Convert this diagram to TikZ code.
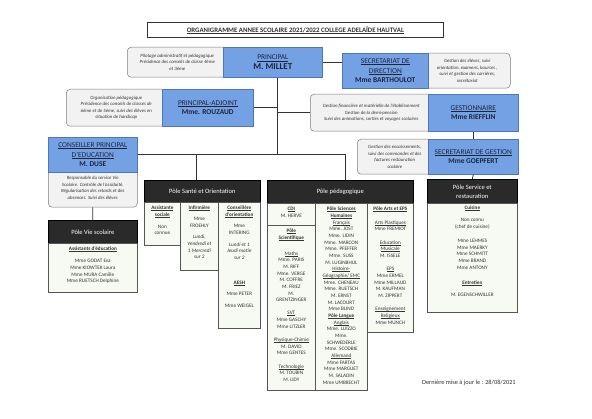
\documentclass[tikz,border=0pt]{standalone}
\usepackage{fontspec}
\setmainfont{Carlito}
\usetikzlibrary{positioning}

\definecolor{chiefblue}{RGB}{116,161,228}
\definecolor{chiefline}{RGB}{78,118,190}
\definecolor{chieftext}{RGB}{28,36,60}
\definecolor{descfill}{RGB}{242,242,242}
\definecolor{descline}{RGB}{125,125,125}
\definecolor{headdark}{RGB}{42,42,42}
\definecolor{bodyfill}{RGB}{246,250,243}
\definecolor{bodyline}{RGB}{85,85,85}
\definecolor{inkgray}{RGB}{50,50,50}

% soulignement fin, sans profondeur excessive
\newcommand{\souligne}[1]{\setbox0\hbox{#1}\rlap{\rule[-0.15em]{\wd0}{0.06em}}\box0}

\begin{document}
\begin{tikzpicture}[x=1pt, y=-1pt,
    desc/.style={draw=descline, fill=descfill, rounded corners=4pt, line width=0.5pt, inner sep=0pt, anchor=north west, align=center, text=inkgray, font=\fontsize{4.8}{6.6}\selectfont\itshape},
    chief/.style={draw=chiefline, fill=chiefblue, line width=0.6pt, inner sep=0pt, anchor=north west, align=center, text=chieftext, font=\fontsize{7.4}{9.6}\selectfont},
    polehead/.style={draw=black, fill=headdark, line width=0.6pt, inner sep=0pt, anchor=north west, align=center, text=white, font=\fontsize{6.5}{9}\selectfont},
    polebody/.style={draw=bodyline, fill=bodyfill, line width=0.7pt, inner sep=0pt, anchor=north west},
    names/.style={inner sep=0pt, align=center, text=inkgray, font=\fontsize{5.2}{6.67}\selectfont},
    link/.style={draw=inkgray, line width=0.8pt}]

\fill[white] (0,0) rectangle (592,419);
\useasboundingbox (0,0) rectangle (592,419);

% title
\node[draw=inkgray, line width=0.7pt, inner sep=0pt, anchor=north west, minimum width=296pt, minimum height=15pt, text=inkgray, font=\fontsize{6.8}{8}\selectfont\bfseries] (title) at (147,22) {\souligne{ORGANIGRAMME ANNEE SCOLAIRE 2021/2022 COLLEGE ADELAÏDE HAUTVAL}};

% direction
\node[desc, minimum width=100pt, minimum height=30pt] (pdesc) at (127,47) {Pilotage administratif et pédagogique\\Présidence des conseils de classe 4ème\\et 3ème};
\node[chief, minimum width=99pt, minimum height=30pt] (principal) at (223,47) {\souligne{PRINCIPAL}\\{\fontsize{9}{10}\selectfont\bfseries M. MILLET}};

\node[desc, minimum width=86pt, minimum height=35pt] (sddesc) at (424,53) {Gestion des élèves, suivi\\orientation, examens, bourses ,\\suivi et gestion des carrières,\\secrétariat};
\node[chief, minimum width=86pt, minimum height=35pt] (secdir) at (342,53) {\souligne{SECRETARIAT DE}\\\souligne{DIRECTION}\\\textbf{Mme BARTHOULOT}};

\node[desc, minimum width=100pt, minimum height=37pt] (adesc) at (66,89) {Organisation pédagogique\\Présidence des conseils de classes de\\6ème et de 5ème, suivi des élèves en\\situation de handicap};
\node[chief, minimum width=91pt, minimum height=37pt] (adjoint) at (162,89) {\souligne{PRINCIPAL-ADJOINT}\\\textbf{Mme. ROUZAUD}};

\node[desc, minimum width=122pt, minimum height=37pt] (gdesc) at (310,94) {Gestion financière et matérielle de l'établissement\\Gestion de la demi-pension\\Suivi des animations, sorties et voyages scolaires};
\node[chief, minimum width=90pt, minimum height=37pt] (gest) at (428,94) {\souligne{GESTIONNAIRE}\\\textbf{Mme RIEFFLIN}};

\node[desc, minimum width=75pt, minimum height=35pt] (sgdesc) at (357,139) {Gestion des encaissements,\\suivi des commandes et des\\factures restauration\\scolaire};
\node[chief, minimum width=90pt, minimum height=35pt] (secgest) at (428,139) {\souligne{SECRETARIAT DE GESTION}\\\textbf{Mme GOEPFERT}};

\node[desc, minimum width=89pt, minimum height=39pt] (cdesc) at (48,168) {Responsable du service Vie\\Scolaire. Contrôle de l'assiduité.\\Régularisation des retards et des\\absences. Suivi des élèves};
\node[chief, minimum width=89pt, minimum height=35pt] (cpe) at (48,137) {\souligne{CONSEILLER PRINCIPAL}\\\souligne{D'EDUCATION}\\\textbf{M. DUSE}};

% poles
\node[polehead, minimum width=89pt, minimum height=23pt] (vieh) at (48,220) {Pôle Vie scolaire};
\node[polehead, minimum width=116pt, minimum height=22pt] (santeh) at (144,180) {Pôle Santé et Orientation};
\node[polehead, minimum width=146pt, minimum height=23pt] (pedah) at (267,180) {Pôle pédagogique};
\node[polehead, minimum width=90pt, minimum height=24pt] (serviceh) at (427,179) {Pôle Service et\\restauration};

\foreach \nm/\x/\y/\w/\h in {vieb/48/243/89/49, sante1/144/202/36/43, sante2/180/202/38/68, sante3/218/202/42/126,
    cdi/267/203/48/22, scien/267/225/48/165, human/315/203/52/187, arts/367/203/46/129, serviceb/427/203/90/109}
  \node[polebody, minimum width=\w pt, minimum height=\h pt] (\nm) at (\x,\y) {};

\node[names, below=4pt of vieb.north] (vietxt) {\souligne{\textbf{Assistants d'éducation}}\\[5.3pt]Mme GODAT Eva\\Mme KIOWTEK Laura\\Mme MURA Camille\\Mme RUETSCH Delphine};

\node[names, below=4pt of sante1.north] (s1txt) {\souligne{\textbf{Assistante}}\\\souligne{\textbf{sociale}}\\[5pt]Non\\connue};
\node[names, below=4pt of sante2.north] (s2txt) {\souligne{\textbf{Infirmière}}\\[4pt]Mme\\FROEHLY\\[5pt]\textit{Lundi,}\\\textit{Vendredi et}\\\textit{1 Mercredi}\\\textit{sur 2}};
\node[names, below=4pt of sante3.north] (s3txt) {\souligne{\textbf{Conseillère}}\\\souligne{\textbf{d'orientation}}\\[4.5pt]Mme\\INTERING\\[5pt]\textit{Lundi et 1}\\\textit{Jeudi matin}\\\textit{sur 2}\\[18pt]\souligne{\textbf{AESH}}\\[4.5pt]Mme PETER\\[6pt]Mme WEIGEL};

\node[names, below=4pt of cdi.north] (cditxt) {\souligne{\textbf{CDI}}\\M. HERVE};
\node[names, below=4pt of scien.north] (sciatxt) {\souligne{\textbf{Pôle}}\\\souligne{\textbf{Scientifique}}\\[9pt]\souligne{Maths}\\Mme. PARIS\\M. RIFF\\Mme. VERGE\\M. COFFRE\\M. FRIEZ\\M.\\GRENTZINGER\\[6.3pt]\souligne{SVT}\\Mme GASCHY\\Mme LITZLER\\[6.7pt]\souligne{Physique-Chimie}\\M. DAVID\\Mme GENTES\\[6.7pt]\souligne{Technologie}\\M. TOUBIN\\M. LIDY};
\node[names, below=4pt of human.north] (humtxt) {\souligne{\textbf{Pôle Sciences}}\\\souligne{\textbf{Humaines}}\\\souligne{Français}\\Mme. JOST\\Mme. LIDIN\\Mme. MARCON\\Mme. PFEFFER\\Mme. SUSS\\M. LUGINBHUL\\\souligne{Histoire-}\\\souligne{Géographie/ EMC}\\Mme. CHENEAU\\Mme. RUETSCH\\M. ERNST\\M. LACOURT\\Mme BLIND\\\souligne{\textbf{Pôle Langue}}\\\souligne{Anglais}\\Mme. LUIZZO\\Mme.\\SCHWEDERLE\\Mme. SCODBIE\\\souligne{Allemand}\\Mme FARTAS\\Mme MARGUET\\M. SALADIN\\Mme UMBRECHT};
\node[names, below=4pt of arts.north] (artstxt) {\souligne{\textbf{Pôle Arts et EPS}}\\[6.67pt]\souligne{Arts Plastiques}\\Mme FREMIOT\\[6.67pt]\souligne{Education}\\\souligne{Musicale}\\M. ISSELE\\[6.67pt]\souligne{EPS}\\Mme ERMEL\\Mme MILLAUD\\M. KAUFMAN\\M. ZIPPERT\\[6.67pt]\souligne{Enseignement}\\\souligne{Religieux}\\Mme MUNCH};

\node[names, below=3pt of serviceb.north] (servtxt) {\souligne{\textbf{Cuisine}}\\[5.3pt]Non connu\\(chef de cuisine)\\[7.3pt]Mme LEHMES\\Mme MAERKY\\Mme SCHMITT\\Mme BRAND\\Mme ANTONY\\[8.3pt]\souligne{\textbf{Entretien}}\\[5.3pt]M. EGENSCHWILLER};

\node[anchor=west, inner sep=0pt, text=inkgray, font=\fontsize{6.3}{7.5}\selectfont] (maj) at (422,383) {Dernière mise à jour le : 28/08/2021};

% liaisons
\coordinate (trunk) at (277,0);
\draw[link] (principal.east) -- (principal.east -| secdir.west);
\draw[link] (principal.south -| trunk) -- (trunk |- cpe.east);
\draw[link] (adjoint.east) -- (adjoint.east -| trunk);
\draw[link] (trunk |- gdesc.west) -- (gdesc.west);
\draw[link] (gest.south) -- (secgest.north);
\draw[link] (secgest.south) -- (serviceh.north);
\draw[link] (cpe.east) -| ([xshift=5pt]pedah.north);
\draw[link] ([xshift=-6pt]santeh.north) -- ([xshift=-6pt]santeh.north |- cpe.east);
\draw[link] (cdesc.south) -- (vieh.north);
\end{tikzpicture}
\end{document}
